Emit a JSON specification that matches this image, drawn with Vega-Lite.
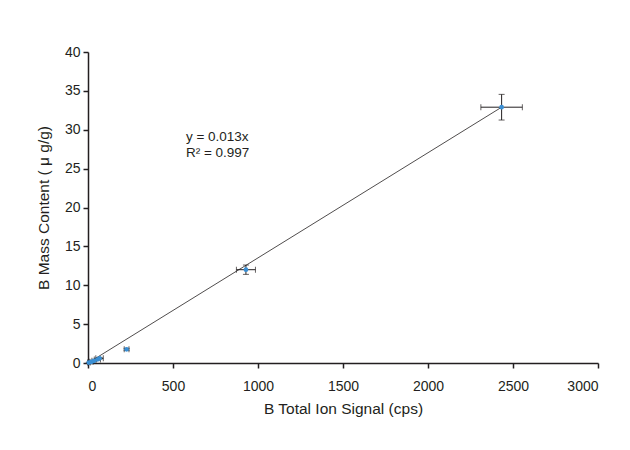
{
  "$schema": "https://vega.github.io/schema/vega-lite/v6.json",
  "autosize": "none",
  "width": 510,
  "height": 311,
  "padding": {"left": 88, "top": 52, "right": 32, "bottom": 87},
  "background": "#ffffff",
  "config": {
    "view": {"stroke": null},
    "font": "Liberation Sans",
    "axis": {
      "domainColor": "#231f20",
      "domainWidth": 1.5,
      "tickColor": "#231f20",
      "tickWidth": 1.5,
      "tickSize": 5,
      "labelFont": "Liberation Sans",
      "labelFontSize": 14,
      "labelColor": "#231f20",
      "labelOverlap": false,
      "titleFont": "Liberation Sans",
      "titleFontSize": 15.5,
      "titleFontWeight": "normal",
      "titleColor": "#231f20",
      "grid": false
    }
  },
  "data": {
    "values": [
      {"signal": 5, "mass": 0.05, "xlo": -3, "xhi": 13, "ylo": 0.0, "yhi": 0.1},
      {"signal": 20, "mass": 0.15, "xlo": 10, "xhi": 30, "ylo": 0.1, "yhi": 0.2},
      {"signal": 35, "mass": 0.28, "xlo": 23, "xhi": 47, "ylo": 0.22, "yhi": 0.34},
      {"signal": 55, "mass": 0.45, "xlo": 37, "xhi": 73, "ylo": 0.37, "yhi": 0.53},
      {"signal": 68, "mass": 0.6, "xlo": 46, "xhi": 90, "ylo": 0.5, "yhi": 0.7},
      {"signal": 227, "mass": 1.76, "xlo": 213, "xhi": 241, "ylo": 1.64, "yhi": 1.88},
      {"signal": 929, "mass": 12.0, "xlo": 873, "xhi": 985, "ylo": 11.4, "yhi": 12.6},
      {"signal": 2433, "mass": 32.9, "xlo": 2311, "xhi": 2555, "ylo": 31.25, "yhi": 34.55}
    ]
  },
  "layer": [
    {
      "data": {"values": [{"signal": 0, "mass": 0}, {"signal": 2433, "mass": 32.9}]},
      "mark": {"type": "line", "color": "#231f20", "strokeWidth": 0.8},
      "encoding": {
        "x": {
          "field": "signal", "type": "quantitative",
          "scale": {"domain": [0, 3000], "nice": false},
          "axis": {"values": [0, 500, 1000, 1500, 2000, 2500, 3000], "format": "d", "labelOverlap": false, "title": "B Total Ion Signal (cps)", "titlePadding": 8, "labelPadding": 11}
        },
        "y": {
          "field": "mass", "type": "quantitative",
          "scale": {"domain": [0, 40], "nice": false},
          "axis": {"values": [0, 5, 10, 15, 20, 25, 30, 35, 40], "tickCount": 9, "labelOverlap": false, "title": "B Mass Content ( μ g/g)", "titlePadding": 13, "labelPadding": 3}
        }
      }
    },
    {
      "mark": {"type": "rule", "color": "#231f20", "strokeWidth": 1},
      "encoding": {
        "x": {"field": "xlo", "type": "quantitative"},
        "x2": {"field": "xhi"},
        "y": {"field": "mass", "type": "quantitative"}
      }
    },
    {
      "mark": {"type": "rule", "color": "#231f20", "strokeWidth": 1},
      "encoding": {
        "y": {"field": "ylo", "type": "quantitative"},
        "y2": {"field": "yhi"},
        "x": {"field": "signal", "type": "quantitative"}
      }
    },
    {
      "mark": {"type": "tick", "orient": "vertical", "color": "#231f20", "size": 6, "thickness": 1},
      "encoding": {
        "x": {"field": "xlo", "type": "quantitative"},
        "y": {"field": "mass", "type": "quantitative"}
      }
    },
    {
      "mark": {"type": "tick", "orient": "vertical", "color": "#231f20", "size": 6, "thickness": 1},
      "encoding": {
        "x": {"field": "xhi", "type": "quantitative"},
        "y": {"field": "mass", "type": "quantitative"}
      }
    },
    {
      "mark": {"type": "tick", "orient": "horizontal", "color": "#231f20", "size": 6, "thickness": 1},
      "encoding": {
        "x": {"field": "signal", "type": "quantitative"},
        "y": {"field": "ylo", "type": "quantitative"}
      }
    },
    {
      "mark": {"type": "tick", "orient": "horizontal", "color": "#231f20", "size": 6, "thickness": 1},
      "encoding": {
        "x": {"field": "signal", "type": "quantitative"},
        "y": {"field": "yhi", "type": "quantitative"}
      }
    },
    {
      "mark": {"type": "point", "filled": true, "shape": "circle", "size": 22, "color": "#3a8fd4", "opacity": 1},
      "encoding": {
        "x": {"field": "signal", "type": "quantitative"},
        "y": {"field": "mass", "type": "quantitative"}
      }
    },
    {
      "data": {"values": [{"t": "y = 0.013x"}]},
      "mark": {"type": "text", "align": "left", "baseline": "middle", "fontSize": 13.5, "color": "#231f20", "lineHeight": 16, "text": ["y = 0.013x", "R² = 0.997"], "dy": -8},
      "encoding": {
        "x": {"datum": 576},
        "y": {"datum": 28.0}
      }
    }
  ]
}
